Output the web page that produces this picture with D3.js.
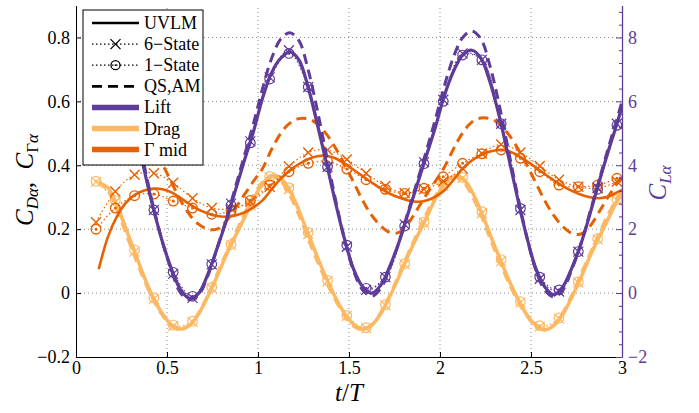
<!DOCTYPE html>
<html><head><meta charset="utf-8">
<script src="https://cdn.jsdelivr.net/npm/d3@7"></script>
<style>
body{margin:0;background:#fff}
svg{display:block;font-family:"Liberation Serif","Times New Roman",serif}
svg text{font-family:"Liberation Serif","Times New Roman",serif !important}
</style>
</head><body>
<svg id="c" width="699" height="413"></svg>
<script>
// ---------- DATA ----------
const xTicks = [0, 0.5, 1, 1.5, 2, 2.5, 3];
const leftTicks = [-0.2, 0, 0.2, 0.4, 0.6, 0.8];
const rightTicks = [-2, 0, 2, 4, 6, 8];
const legendLabels = ["UVLM", "6\u2212State", "1\u2212State", "QS,AM", "Lift", "Drag", "\u0393 mid"];

// dense time base (UVLM and QS,AM curves)
const tLine = [0.125,0.175,0.225,0.275,0.325,0.375,0.425,0.475,0.525,0.575,0.625,0.675,0.725,0.775,0.825,0.875,0.925,0.975,
  1.025,1.075,1.125,1.175,1.225,1.275,1.325,1.375,1.425,1.475,1.525,1.575,1.625,1.675,1.725,1.775,1.825,1.875,1.925,1.975,
  2.025,2.075,2.125,2.175,2.225,2.275,2.325,2.375,2.425,2.475,2.525,2.575,2.625,2.675,2.725,2.775,2.825,2.875,2.925,2.975,3.0];
// marker time base (6-State and 1-State curves)
const tMark = [0.11,0.216,0.322,0.428,0.534,0.64,0.746,0.852,0.958,1.064,1.17,1.276,1.382,1.488,1.594,1.70,1.806,1.912,
  2.018,2.124,2.23,2.336,2.442,2.548,2.654,2.76,2.866,2.972,3.0];

// Lift (right axis)
const liftUVLM = [7.2,7.4,7.1,6.3,5.2,3.85,2.65,1.6,0.75,0.1,-0.17,0.0,0.6,1.4,2.25,3.2,4.15,5.05,
  6.1,6.9,7.35,7.55,7.3,6.45,5.3,4.1,2.85,1.7,0.75,0.2,0.0,0.25,0.85,1.6,2.5,3.4,4.3,5.2,
  6.2,6.95,7.45,7.6,7.35,6.6,5.55,4.3,3.0,1.8,0.8,0.2,-0.05,0.2,0.8,1.55,2.5,3.5,4.45,5.35,5.85];
const liftQS = [7.6,7.9,7.6,6.7,5.5,4.0,2.7,1.6,0.7,0.0,-0.2,-0.05,0.55,1.4,2.3,3.3,4.3,5.3,
  6.4,7.35,7.95,8.15,7.9,7.0,5.75,4.35,2.95,1.7,0.7,0.1,-0.1,0.15,0.8,1.6,2.55,3.5,4.45,5.45,
  6.5,7.4,8.0,8.2,7.95,7.1,5.9,4.5,3.1,1.8,0.75,0.1,-0.12,0.1,0.75,1.55,2.55,3.55,4.55,5.5,6.0];
const lift6 = [7.1,7.15,5.3,2.6,0.6,-0.15,0.9,2.8,4.75,6.75,7.6,6.45,3.95,1.45,0.1,0.5,2.15,4.1,6.05,7.5,7.3,5.3,2.6,0.45,0.05,1.3,3.3,5.3,5.85];
const lift1 = [7.0,7.1,5.25,2.6,0.65,-0.1,0.9,2.75,4.7,6.7,7.5,6.45,3.95,1.5,0.15,0.5,2.1,4.05,6.0,7.45,7.3,5.3,2.65,0.5,0.1,1.3,3.25,5.25,5.8];

// Drag (left axis)
const dragUVLM = [0.345,0.33,0.275,0.2,0.125,0.05,-0.015,-0.065,-0.1,-0.112,-0.1,-0.064,-0.01,0.052,0.118,0.178,0.235,0.295,
  0.34,0.368,0.36,0.32,0.258,0.185,0.115,0.047,-0.013,-0.063,-0.098,-0.112,-0.1,-0.064,-0.01,0.052,0.118,0.178,0.235,0.295,
  0.34,0.366,0.358,0.318,0.256,0.183,0.113,0.045,-0.015,-0.066,-0.1,-0.115,-0.102,-0.066,-0.012,0.05,0.116,0.176,0.233,0.29,0.31];
const dragQS = [0.35,0.32,0.26,0.185,0.11,0.04,-0.022,-0.07,-0.104,-0.115,-0.1,-0.06,-0.005,0.06,0.125,0.188,0.248,0.305,
  0.348,0.365,0.35,0.305,0.243,0.17,0.1,0.035,-0.022,-0.07,-0.104,-0.115,-0.1,-0.06,-0.005,0.06,0.125,0.188,0.248,0.305,
  0.348,0.365,0.35,0.305,0.243,0.17,0.1,0.035,-0.022,-0.07,-0.104,-0.115,-0.1,-0.06,-0.005,0.06,0.125,0.188,0.248,0.3,0.32];
const drag6 = [0.348,0.285,0.13,-0.018,-0.103,-0.09,0.015,0.15,0.275,0.362,0.325,0.185,0.037,-0.072,-0.11,-0.038,0.09,0.22,0.335,0.36,0.25,0.1,-0.03,-0.105,-0.08,0.033,0.168,0.29,0.315];
const drag1 = [0.35,0.29,0.135,-0.015,-0.1,-0.088,0.018,0.152,0.278,0.365,0.33,0.19,0.04,-0.07,-0.108,-0.036,0.092,0.222,0.338,0.362,0.255,0.105,-0.027,-0.102,-0.078,0.035,0.17,0.293,0.318];

// Gamma mid (left axis)
const gamUVLM = [0.075,0.175,0.24,0.283,0.308,0.321,0.327,0.325,0.315,0.297,0.278,0.261,0.249,0.241,0.239,0.243,0.252,0.268,
  0.29,0.325,0.358,0.384,0.404,0.419,0.428,0.43,0.422,0.405,0.386,0.366,0.346,0.327,0.311,0.299,0.29,0.286,0.29,0.302,
  0.322,0.355,0.39,0.415,0.432,0.443,0.448,0.445,0.432,0.414,0.394,0.373,0.353,0.335,0.32,0.308,0.3,0.297,0.302,0.316,0.323];
const gamQS = [0.5,0.532,0.546,0.545,0.53,0.498,0.455,0.403,0.347,0.29,0.245,0.215,0.2,0.2,0.225,0.265,0.308,0.35,
  0.39,0.45,0.5,0.532,0.546,0.545,0.53,0.498,0.455,0.403,0.347,0.29,0.243,0.21,0.19,0.19,0.218,0.262,0.308,0.35,
  0.395,0.452,0.502,0.535,0.548,0.546,0.53,0.498,0.455,0.403,0.347,0.29,0.243,0.208,0.187,0.185,0.21,0.255,0.302,0.345,0.365];
const gam6 = [0.222,0.318,0.37,0.375,0.345,0.297,0.266,0.264,0.286,0.333,0.396,0.44,0.448,0.418,0.375,0.335,0.313,0.325,0.35,0.39,0.437,0.465,0.44,0.398,0.355,0.333,0.328,0.349,0.36];
const gam1 = [0.2,0.266,0.305,0.31,0.288,0.266,0.247,0.258,0.29,0.338,0.38,0.406,0.412,0.388,0.355,0.325,0.312,0.328,0.364,0.406,0.436,0.448,0.422,0.38,0.338,0.333,0.338,0.359,0.365];

// ---------- STYLE ----------
const LIFT = "#5e3c99", DRAG = "#fdb863", GAM = "#e66101";
const FONT = "Liberation Serif";
const svg = d3.select("#c");
const x = d3.scaleLinear().domain([0, 3]).range([76, 622]);
const yL = d3.scaleLinear().domain([-0.2, 0.9]).range([357, 5.5]);
const yR = d3.scaleLinear().domain([-2, 9]).range([357, 5.5]);

svg.append("defs").append("clipPath").attr("id", "pc")
  .append("rect").attr("x", x(0)).attr("y", yL(0.9)).attr("width", x(3) - x(0)).attr("height", yL(-0.2) - yL(0.9));

// grid
const grid = svg.append("g").attr("stroke", "#8a8a8a").attr("stroke-width", 1).attr("stroke-dasharray", "1,3");
grid.selectAll(".gx").data(xTicks.filter(d => d > 0 && d < 3)).join("line")
  .attr("x1", d => x(d)).attr("x2", d => x(d)).attr("y1", yL(-0.2)).attr("y2", yL(0.9));
grid.selectAll(".gy").data(leftTicks.filter(d => d > -0.2)).join("line")
  .attr("x1", x(0)).attr("x2", x(3)).attr("y1", d => yL(d)).attr("y2", d => yL(d));

const plot = svg.append("g").attr("clip-path", "url(#pc)");

function drawLine(t, v, ys, color, width, dash) {
  const line = d3.line().x((d, i) => x(t[i])).y(d => ys(d)).curve(d3.curveCatmullRom.alpha(0.5));
  plot.append("path").datum(v).attr("d", line).attr("fill", "none")
    .attr("stroke", color).attr("stroke-width", width)
    .attr("stroke-dasharray", dash).attr("stroke-linejoin", "round");
}
function drawMarkers(t, v, ys, color, type, sw) {
  const g = plot.append("g").attr("stroke", color).attr("fill", "none").attr("stroke-width", sw);
  v.forEach((d, i) => {
    if (i === v.length - 1) return;
    const px = x(t[i]), py = ys(d);
    if (type === "x") {
      g.append("path").attr("d", `M${px-5},${py-5}L${px+5},${py+5}M${px-5},${py+5}L${px+5},${py-5}`);
    } else {
      g.append("circle").attr("cx", px).attr("cy", py).attr("r", 4.8);
      g.append("circle").attr("cx", px).attr("cy", py).attr("r", 0.8).attr("fill", color);
    }
  });
}

// Drag
drawLine(tLine, dragUVLM, yL, DRAG, 3.5, null);
drawLine(tLine, dragQS, yL, DRAG, 3, "10,6");
drawLine(tMark, drag6, yL, DRAG, 1.2, "1.5,2.5");
drawLine(tMark, drag1, yL, DRAG, 1.2, "1.5,2.5");
drawMarkers(tMark, drag6, yL, DRAG, "x", 1.2);
drawMarkers(tMark, drag1, yL, DRAG, "o", 1.2);
// Gamma
drawLine(tLine, gamUVLM, yL, GAM, 2.6, null);
drawLine(tLine, gamQS, yL, GAM, 3, "10,6");
drawLine(tMark, gam6, yL, GAM, 1.2, "1.5,2.5");
drawLine(tMark, gam1, yL, GAM, 1.2, "1.5,2.5");
drawMarkers(tMark, gam6, yL, GAM, "x", 1.4);
drawMarkers(tMark, gam1, yL, GAM, "o", 1.4);
// Lift
drawLine(tLine, liftUVLM, yR, LIFT, 3.2, null);
drawLine(tLine, liftQS, yR, LIFT, 3, "10,6");
drawLine(tMark, lift6, yR, LIFT, 1.2, "1.5,2.5");
drawLine(tMark, lift1, yR, LIFT, 1.2, "1.5,2.5");
drawMarkers(tMark, lift6, yR, LIFT, "x", 1.2);
drawMarkers(tMark, lift1, yR, LIFT, "o", 1.2);

// ---------- AXES ----------
const fmt = d3.format("~g");
const ax = svg.append("g").attr("transform", `translate(0,${yL(-0.2)})`)
  .call(d3.axisBottom(x).tickValues(xTicks).tickFormat(fmt).tickSizeInner(-5).tickSizeOuter(0).tickPadding(4));
const ay = svg.append("g").attr("transform", `translate(${x(0)},0)`)
  .call(d3.axisLeft(yL).tickValues(leftTicks).tickFormat(fmt).tickSizeInner(-5).tickSizeOuter(0).tickPadding(6));
const ayr = svg.append("g").attr("transform", `translate(${x(3)},0)`)
  .call(d3.axisRight(yR).tickValues(rightTicks).tickFormat(fmt).tickSizeInner(-6).tickSizeOuter(0).tickPadding(6));
const minor = d3.range(-2, 9.001, 0.4).filter(d => !rightTicks.includes(Math.round(d * 10) / 10));
svg.append("g").attr("transform", `translate(${x(3)},0)`)
  .call(d3.axisRight(yR).tickValues(minor).tickFormat("").tickSizeInner(-3).tickSizeOuter(0))
  .call(g => g.select(".domain").remove())
  .selectAll("line").attr("stroke", LIFT);
[ax, ay, ayr].forEach(g => g.attr("font-family", FONT).attr("font-size", 18));
[ax, ay].forEach(g => {
  g.selectAll("text").style("font-family", FONT).attr("font-size", 18).attr("fill", "#000");
  g.select(".domain").attr("stroke", "#000");
});
ayr.selectAll("text").style("font-family", FONT).attr("font-size", 18).attr("fill", LIFT);
ayr.selectAll("line").attr("stroke", LIFT);
ayr.select(".domain").attr("stroke", LIFT).attr("stroke-width", 1.3);

// axis titles
const xl = svg.append("text").attr("x", 349).attr("y", 401).attr("text-anchor", "middle").attr("font-size", 25);
xl.append("tspan").attr("font-style", "italic").text("t");
xl.append("tspan").text("/");
xl.append("tspan").attr("font-style", "italic").text("T");

const yl = svg.append("text").attr("transform", "translate(33,180) rotate(-90)").attr("text-anchor", "middle").attr("font-size", 25);
yl.append("tspan").attr("font-style", "italic").text("C");
yl.append("tspan").attr("font-size", 17).attr("dy", 5).attr("font-style", "italic").text("D\u03b1");
yl.append("tspan").attr("dy", -5).text(",\u00a0\u00a0");
yl.append("tspan").attr("font-style", "italic").text("C");
yl.append("tspan").attr("font-size", 17).attr("dy", 5).text("\u0393");
yl.append("tspan").attr("font-size", 17).attr("font-style", "italic").text("\u03b1");

const yr = svg.append("text").attr("transform", "translate(666,183) rotate(-90)").attr("text-anchor", "middle")
  .attr("font-size", 25).attr("fill", LIFT);
yr.append("tspan").attr("font-style", "italic").text("C");
yr.append("tspan").attr("font-size", 17).attr("dy", 5).attr("font-style", "italic").text("L\u03b1");

// ---------- LEGEND ----------
const lg = svg.append("g");
lg.append("rect").attr("x", 83).attr("y", 10).attr("width", 120).attr("height", 155)
  .attr("fill", "#fff").attr("stroke", "#000").attr("stroke-width", 1);
const legendStyle = [
  {c: "#000", w: 2.6, d: null, m: null},
  {c: "#000", w: 1.2, d: "1.5,2.5", m: "x"},
  {c: "#000", w: 1.2, d: "1.5,2.5", m: "o"},
  {c: "#000", w: 2.8, d: "10,6", m: null},
  {c: LIFT, w: 5.5, d: null, m: null},
  {c: DRAG, w: 5.5, d: null, m: null},
  {c: GAM, w: 5.5, d: null, m: null}
];
legendLabels.forEach((lab, i) => {
  const yy = 23 + i * 21.1, st = legendStyle[i];
  lg.append("line").attr("x1", 92).attr("x2", 139).attr("y1", yy).attr("y2", yy)
    .attr("stroke", st.c).attr("stroke-width", st.w).attr("stroke-dasharray", st.d);
  if (st.m === "x") lg.append("path").attr("d", `M${115.5-5},${yy-5}L${115.5+5},${yy+5}M${115.5-5},${yy+5}L${115.5+5},${yy-5}`)
    .attr("stroke", "#000").attr("stroke-width", 1.3);
  if (st.m === "o") {
    lg.append("circle").attr("cx", 115.5).attr("cy", yy).attr("r", 4.5).attr("fill", "none").attr("stroke", "#000").attr("stroke-width", 1.3);
    lg.append("circle").attr("cx", 115.5).attr("cy", yy).attr("r", 0.9).attr("fill", "#000");
  }
  lg.append("text").attr("x", 144).attr("y", yy + 6).attr("font-size", 18).text(lab);
});
</script>
</body></html>
